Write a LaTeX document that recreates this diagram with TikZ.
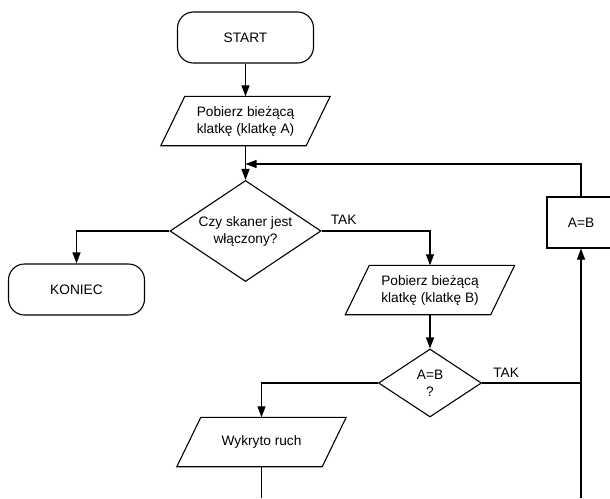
\documentclass[tikz,border=0pt]{standalone}
\usepackage{fontspec}
\setmainfont{Liberation Sans}
\usetikzlibrary{shapes.geometric,arrows.meta,calc}

\begin{document}
\begin{tikzpicture}[x=1pt,y=-1pt,
  every node/.style={font=\fontsize{13.7}{17}\selectfont},
  base/.style={draw, line width=1.1pt, align=center, inner sep=0pt},
  terminal/.style={base, rectangle, rounded corners=16pt, minimum width=136pt, minimum height=51pt},
  % slanted input/output box: the outline is drawn from the node's corners below
  io/.style={align=center, inner sep=0pt, rectangle, minimum width=145pt, minimum height=49pt},
  outline/.style={line width=1.1pt, line join=miter},
  decision/.style={base, diamond, aspect=1.5},
  process/.style={base, rectangle, minimum width=68pt, minimum height=51pt},
  flow/.style={line width=1.1pt, -{Triangle[length=11pt,width=8pt]}},
  link/.style={line width=1.1pt},
  lbl/.style={inner sep=0pt}
]
% page area
\clip (0,0) rectangle (610,498);
\fill[white] (0,0) rectangle (610,498);

% blocks
\node[terminal] (start) at (245.5,37.5) {START};
\node[io] (pa) at (245.5,121) {Pobierz bieżącą\\klatkę (klatkę A)};
\node[decision, minimum width=151pt, minimum height=101pt] (d1) at (245.5,231) {Czy skaner jest\\włączony?};
\node[terminal] (ko) at (76.5,289.5) {KONIEC};
\node[io] (pb) at (430,290) {Pobierz bieżącą\\klatkę (klatkę B)};
\node[decision, minimum width=103pt, minimum height=68pt] (d2) at (430,383) {A=B\\?};
\node[io] (wy) at (261.5,442) {Wykryto ruch};
\node[process] (ab) at (581,222.5) {A=B};

% parallelogram outlines of the input/output boxes
\foreach \n in {pa,pb,wy}
  \draw[outline] ($(\n.north west)+(12,0)$) -- ($(\n.north east)+(12,0)$)
    -- ($(\n.south east)+(-12,0)$) -- ($(\n.south west)+(-12,0)$) -- cycle;

% free ends of connectors
\coordinate (mrg) at (245.5,164);
\coordinate (jn) at (581,383);
\coordinate (rb) at (581,498);
\coordinate (wb) at (261.5,498);

% connectors
\draw[flow] (start.south) -- (pa.north);
\draw[flow] (pa.south) -- (d1.north);
\draw[flow] (ab.north) |- (mrg);
\draw[flow] (d1.west) -| (ko.north);
\draw[flow] (d1.east) -| (pb.north);
\draw[flow] (pb.south) -- (d2.north);
\draw[flow] (d2.west) -| (wy.north);
\draw[link] (d2.east) -- (jn);
\draw[flow] (rb) -- (ab.south);
\draw[link] (wy.south) -- (wb);

% branch labels
\node[lbl, anchor=west] (tak1) at ($(d1.east)+(9,-11)$) {TAK};
\node[lbl, anchor=west] (tak2) at ($(d2.east)+(11,-10)$) {TAK};
\end{tikzpicture}
\end{document}
